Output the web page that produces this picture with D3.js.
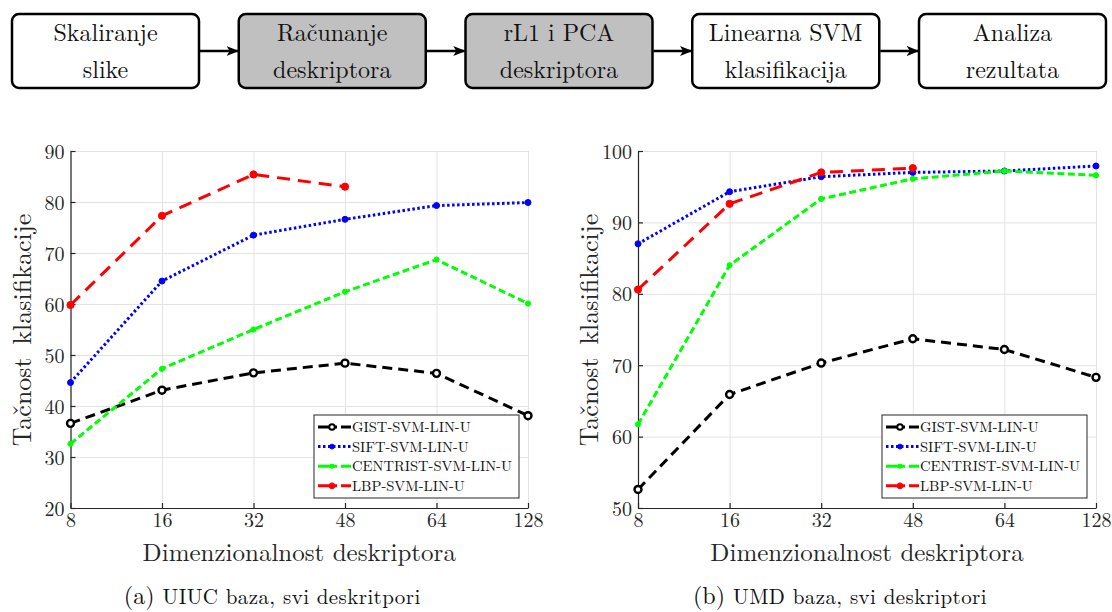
<!DOCTYPE html>
<html>
<head>
<meta charset="utf-8">
<script src="https://cdn.jsdelivr.net/npm/d3@7"></script>
<style>
  body { margin: 0; background: #fff; }
</style>
</head>
<body>
<svg id="fig" width="1112" height="612"></svg>
<script>
// flowchart steps
const steps = [
  ['Skaliranje', 'slike'],
  ['Računanje', 'deskriptora'],
  ['rL1 i PCA', 'deskriptora'],
  ['Linearna SVM', 'klasifikacija'],
  ['Analiza', 'rezultata']
];
const shaded = [false, true, true, false, false];

// x categories
const dims = ['8', '16', '32', '48', '64', '128'];

// UIUC
const uiucGist = [36.6, 43.1, 46.5, 48.4, 46.4, 38.1];
const uiucSift = [44.6, 64.5, 73.5, 76.6, 79.3, 79.9];
const uiucCentrist = [32.6, 47.3, 55.0, 62.4, 68.7, 60.1];
const uiucLbp = [59.8, 77.3, 85.4, 83.0];
const uiucTicks = [20, 30, 40, 50, 60, 70, 80, 90];

// UMD
const umdGist = [52.6, 65.9, 70.3, 73.7, 72.2, 68.3];
const umdSift = [87.0, 94.3, 96.4, 97.0, 97.2, 97.9];
const umdCentrist = [61.7, 84.0, 93.3, 96.1, 97.2, 96.6];
const umdLbp = [80.6, 92.6, 97.0, 97.6];
const umdTicks = [50, 60, 70, 80, 90, 100];

const seriesNames = ['GIST-SVM-LIN-U', 'SIFT-SVM-LIN-U', 'CENTRIST-SVM-LIN-U', 'LBP-SVM-LIN-U'];

const styles = [
  { color: '#000', dash: '10 6', marker: 'open', r: 3.5 },
  { color: '#0000ff', dash: '2.5 2.5', marker: 'dot', r: 3 },
  { color: '#00ff00', dash: '7 3.5', marker: 'dot', r: 2.6 },
  { color: '#ff0000', dash: '13 8', marker: 'dot', r: 3.6 }
];

const serif = '"Latin Modern Roman", "Liberation Serif", serif';
const svg = d3.select('#fig').attr('font-family', serif);

// ---- flowchart ----
const boxW = 187, boxH = 74, boxY = 14;
const boxX = d3.scaleLinear().domain([0, 4]).range([12, 919]);

svg.append('defs').append('marker')
  .attr('id', 'arrow')
  .attr('viewBox', '0 0 10 10')
  .attr('refX', 9).attr('refY', 5)
  .attr('markerWidth', 5).attr('markerHeight', 5)
  .attr('markerUnits', 'strokeWidth')
  .attr('orient', 'auto')
  .append('path')
  .attr('d', 'M0,1 L10,5 L0,9 L2.5,5 Z')
  .attr('fill', '#000');

const flow = svg.append('g');
const boxes = flow.selectAll('g.box')
  .data(steps)
  .join('g')
  .attr('class', 'box')
  .attr('transform', (d, i) => `translate(${boxX(i)} ${boxY})`);

boxes.append('rect')
  .attr('width', boxW).attr('height', boxH)
  .attr('rx', 7)
  .attr('fill', (d, i) => shaded[i] ? '#c0c0c0' : '#fff')
  .attr('stroke', '#000')
  .attr('stroke-width', 2.5);

boxes.append('text')
  .attr('text-anchor', 'middle')
  .attr('font-size', 24)
  .attr('fill', '#111')
  .selectAll('tspan')
  .data(d => d)
  .join('tspan')
  .attr('x', boxW / 2)
  .attr('y', (d, i) => i === 0 ? 27 : 64)
  .text(d => d);

flow.selectAll('line.arrow')
  .data(d3.range(4))
  .join('line')
  .attr('class', 'arrow')
  .attr('x1', i => boxX(i) + boxW + 1)
  .attr('x2', i => boxX(i + 1) - 1)
  .attr('y1', boxY + boxH / 2)
  .attr('y2', boxY + boxH / 2)
  .attr('stroke', '#000')
  .attr('stroke-width', 2.5)
  .attr('marker-end', 'url(#arrow)');

// ---- line charts ----
function drawChart(opts) {
  const x = d3.scalePoint().domain(dims).range([opts.left, opts.right]);
  const y = d3.scaleLinear().domain(opts.domain).range([508, 151]);
  const g = svg.append('g');

  // grid
  g.append('g')
    .attr('transform', `translate(0 ${y.range()[0]})`)
    .call(d3.axisBottom(x).tickSize(-(y.range()[0] - y.range()[1])).tickFormat(''))
    .call(a => a.select('.domain').remove())
    .selectAll('line').attr('stroke', '#e3e3e3').attr('stroke-width', 1);
  g.append('g')
    .attr('transform', `translate(${opts.left} 0)`)
    .call(d3.axisLeft(y).tickValues(opts.ticks).tickSize(-(opts.right - opts.left)).tickFormat(''))
    .call(a => a.select('.domain').remove())
    .selectAll('line').attr('stroke', '#e3e3e3').attr('stroke-width', 1);

  // axes
  const xAxis = g.append('g')
    .attr('transform', `translate(0 ${y.range()[0]})`)
    .call(d3.axisBottom(x).tickSize(-5).tickPadding(5).tickSizeOuter(0));
  const yAxis = g.append('g')
    .attr('transform', `translate(${opts.left} 0)`)
    .call(d3.axisLeft(y).tickValues(opts.ticks).tickSize(-5).tickPadding(6).tickSizeOuter(0));
  [xAxis, yAxis].forEach(a => {
    a.attr('font-family', serif).attr('font-size', 20);
    a.select('.domain').attr('stroke', '#262626').attr('stroke-width', 1.2);
    a.selectAll('.tick line').attr('stroke', '#262626').attr('stroke-width', 1.2);
    a.selectAll('.tick text').attr('fill', '#262626');
  });
  yAxis.selectAll('.tick text').attr('dy', '0.35em');

  // series
  const line = d3.line().x((d, i) => x(dims[i])).y(d => y(d));
  const sg = g.append('g')
    .selectAll('g')
    .data(opts.series)
    .join('g');
  sg.append('path')
    .attr('d', d => line(d))
    .attr('fill', 'none')
    .attr('stroke', (d, i) => styles[i].color)
    .attr('stroke-width', 3)
    .attr('stroke-dasharray', (d, i) => styles[i].dash);
  sg.each(function (vals, si) {
    const st = styles[si];
    d3.select(this).selectAll('circle')
      .data(vals)
      .join('circle')
      .attr('cx', (d, i) => x(dims[i]))
      .attr('cy', d => y(d))
      .attr('r', st.r)
      .attr('fill', st.marker === 'open' ? '#fff' : st.color)
      .attr('stroke', st.color)
      .attr('stroke-width', st.marker === 'open' ? 2.4 : 1);
  });

  // labels
  const mid = (opts.left + opts.right) / 2;
  g.append('text')
    .attr('transform', `translate(${opts.left - 40} 330) rotate(-90)`)
    .attr('text-anchor', 'middle')
    .attr('font-size', 26)
    .attr('word-spacing', 4)
    .attr('fill', '#262626')
    .text('Tačnost klasifikacije');
  g.append('text')
    .attr('x', mid).attr('y', 561)
    .attr('text-anchor', 'middle')
    .attr('font-size', 25)
    .attr('fill', '#262626')
    .text('Dimenzionalnost deskriptora');
  const cap = g.append('text')
    .attr('x', mid - 27).attr('y', 604)
    .attr('text-anchor', 'middle')
    .attr('fill', '#111');
  cap.append('tspan').attr('font-size', 24).text(opts.tag + ' ');
  cap.append('tspan').attr('font-size', 21).attr('letter-spacing', 0.4).text(opts.caption);

  // legend
  const lg = g.append('g').attr('transform', `translate(${opts.legendX} 415)`);
  lg.append('rect')
    .attr('width', 205).attr('height', 83)
    .attr('fill', '#fff')
    .attr('stroke', '#262626')
    .attr('stroke-width', 1);
  const items = lg.selectAll('g.item')
    .data(seriesNames)
    .join('g')
    .attr('class', 'item')
    .attr('transform', (d, i) => `translate(0 ${12 + i * 19.6})`);
  items.append('line')
    .attr('x1', 4).attr('x2', 37)
    .attr('stroke', (d, i) => styles[i].color)
    .attr('stroke-width', 3)
    .attr('stroke-dasharray', (d, i) => i === 1 ? '2.5 2.5' : '19 4 10');
  items.append('circle')
    .attr('cx', 18)
    .attr('r', (d, i) => styles[i].r * 0.8)
    .attr('fill', (d, i) => styles[i].marker === 'open' ? '#fff' : styles[i].color)
    .attr('stroke', (d, i) => styles[i].color)
    .attr('stroke-width', (d, i) => styles[i].marker === 'open' ? 2 : 1);
  items.append('text')
    .attr('x', 38).attr('dy', '0.35em')
    .attr('font-size', 14.6)
    .attr('fill', '#111')
    .text(d => d);
}

drawChart({
  left: 70.5, right: 528, domain: [20, 90], ticks: uiucTicks,
  series: [uiucGist, uiucSift, uiucCentrist, uiucLbp],
  legendX: 314, tag: '(a)', caption: 'UIUC baza, svi deskritpori'
});
drawChart({
  left: 638, right: 1096, domain: [50, 100], ticks: umdTicks,
  series: [umdGist, umdSift, umdCentrist, umdLbp],
  legendX: 882, tag: '(b)', caption: 'UMD baza, svi deskriptori'
});
</script>
</body>
</html>
